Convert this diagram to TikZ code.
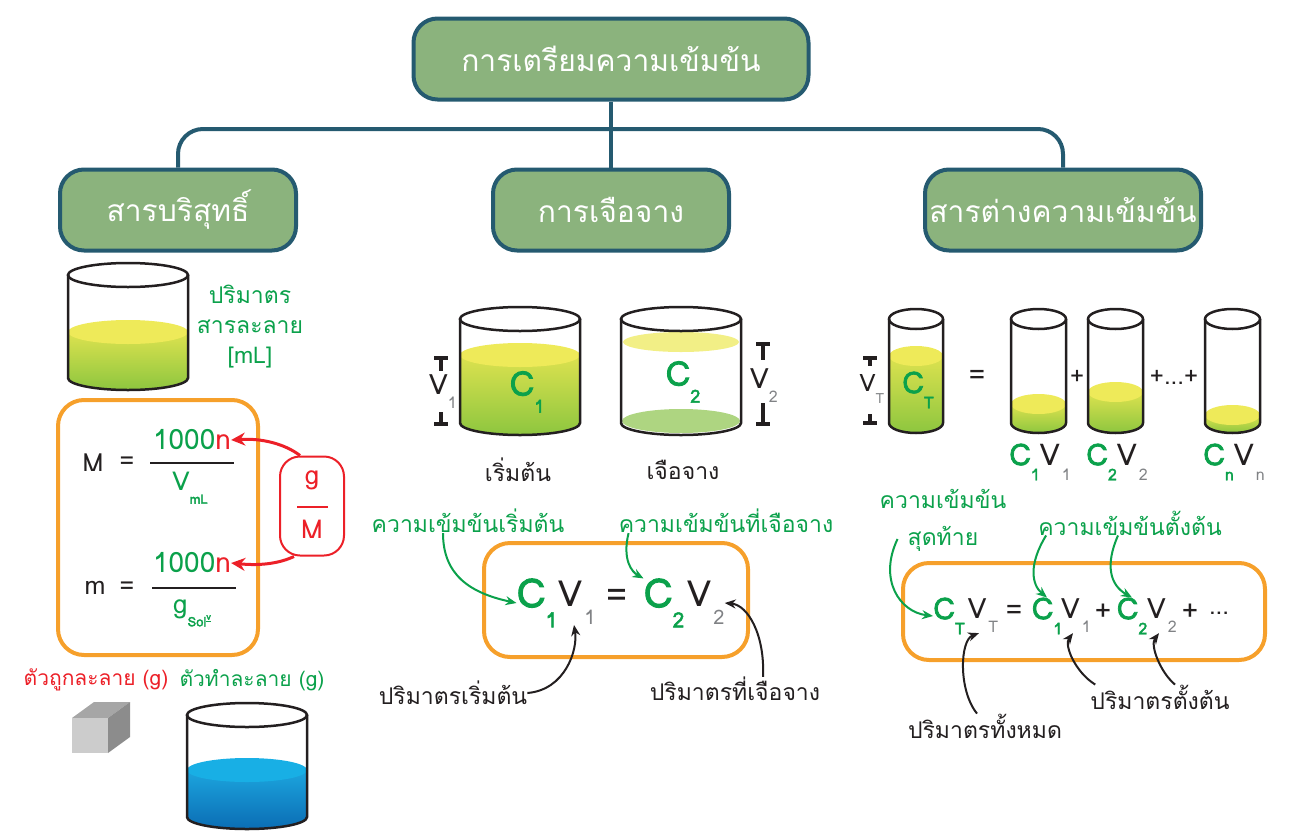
\documentclass[tikz,border=0pt]{standalone}
\usepackage{fontspec}
\setmainfont[Script=Thai]{Loma}
\newfontfamily\heavy[Script=Thai,FakeBold=2.5]{Loma}
\usetikzlibrary{positioning,arrows.meta}

\definecolor{boxfill}{HTML}{8BB37D}
\definecolor{boxline}{HTML}{255A70}
\definecolor{frameorange}{HTML}{F6A02B}
\definecolor{txtgreen}{HTML}{0BA14B}
\definecolor{txtred}{HTML}{EC2028}
\definecolor{ink}{HTML}{231F20}
\definecolor{subgray}{HTML}{808285}
\definecolor{liqtop}{HTML}{EEEA59}
\definecolor{liqmid}{HTML}{DDE24F}
\definecolor{liqbot}{HTML}{8DC63F}
\definecolor{bandyellow}{HTML}{F2EF86}
\definecolor{bandgreen}{HTML}{AED581}
\definecolor{watertop}{HTML}{18AFE5}
\definecolor{watermid}{HTML}{1CA5DE}
\definecolor{waterbot}{HTML}{0B6DB4}

% lowered index, #1 = size
\newcommand{\lowidx}[2]{\raisebox{-0.5em}{\fontsize{#1}{#1}\selectfont#2}}

% glass: left x, right x, rim y, bottom y, y radius
\newcommand{\glass}[5]{%
  \pgfmathsetmacro\grx{(#2-#1)/2}\pgfmathsetmacro\gcx{(#1+#2)/2}%
  \draw[glassline] (#1,#3) -- (#1,#4) arc[start angle=180,end angle=360,x radius=\grx pt,y radius=#5pt] -- (#2,#3);
  \draw[glassline] (\gcx,#3) ellipse[x radius=\grx pt,y radius=#5pt];
}
% liquid: left x, right x, level y, bottom y, y radius, upper, lower, surface
\newcommand{\liquid}[8]{%
  \pgfmathsetmacro\grx{(#2-#1)/2}\pgfmathsetmacro\gcx{(#1+#2)/2}%
  \shade[top color=#6,bottom color=#7] (#1,#3) -- (#1,#4) arc[start angle=180,end angle=360,x radius=\grx pt,y radius=#5pt] -- (#2,#3) -- cycle;
  \fill[#8] (\gcx,#3) ellipse[x radius=\grx pt,y radius=#5pt];
}

\begin{document}
\begin{tikzpicture}[x=1pt,y=-1pt]
        \tikzstyle{topic}=[draw=boxline,line width=4pt,fill=boxfill,rounded corners=24pt,text=white,font=\fontsize{30}{36}\selectfont,minimum height=81pt]
        \tikzstyle{branch}=[draw=boxline,line width=4pt]
        \tikzstyle{frame}=[draw=frameorange,line width=4pt,rounded corners=26pt]
        \tikzstyle{glassline}=[draw=ink,line width=2.5pt]
        \tikzstyle{ruler}=[draw=ink,line width=3.5pt]
        \tikzstyle{greenlbl}=[text=txtgreen,font=\fontsize{23}{26}\selectfont,inner sep=0pt]
        \tikzstyle{blacklbl}=[text=ink,font=\fontsize{23}{26}\selectfont,inner sep=0pt]
        \tikzstyle{conc}=[text=txtgreen,font=\heavy,inner sep=0pt]
        \tikzstyle{formula}=[text=txtgreen,inner sep=0pt]
        \tikzstyle{vol}=[text=ink,inner sep=0pt]
        \tikzstyle{hint}=[draw=txtgreen,line width=2pt,-{Stealth[length=11pt,width=9pt]}]
        \tikzstyle{pointer}=[draw=ink,line width=2pt,-{Stealth[length=11pt,width=9pt]}]
        \tikzstyle{redarrow}=[draw=txtred,line width=3pt,-{Stealth[length=14pt,width=13pt]}]

        \useasboundingbox (0,0) rectangle (1291,833);

        % Tree
        \node[topic,minimum width=395pt] (root) at (611,59) {การเตรียมความเข้มข้น};
        \node[topic,minimum width=236pt] (pure) at (178,210) {สารบริสุทธิ์};
        \node[topic,minimum width=236pt] (dilute) at (611,210) {การเจือจาง};
        \node[topic,minimum width=276pt] (mixed) at (1063,210) {สารต่างความเข้มข้น};
        \coordinate (fork) at (611,129);
        \draw[branch] (root) -- (dilute);
        \draw[branch,rounded corners=25pt] (pure.north) |- (fork) -| (mixed.north);

        % Pure substance: solution glass
        \liquid{68}{188}{332}{378}{12}{liqmid}{liqbot}{liqtop}
        \glass{68}{188}{275}{378}{12}
        \node[greenlbl,align=center] (soln) at (250,327) {ปริมาตร\\[4pt]สารละลาย\\[4pt][mL]};

        % Formulas
        \draw[frame] (58,400) rectangle (258,655);
        \node[vol,font=\fontsize{25}{25}\selectfont] (M) at (93,463) {M};
        \node[vol,font=\fontsize{25}{25}\selectfont] (Meq) at (127,463) {=};
        \draw[ink,line width=2pt] (150,463) -- (234,463);
        \node[formula,font=\fontsize{28}{28}\selectfont] (n1) at (192,440) {1000{\color{txtred}n}};
        \node[formula,font=\fontsize{26}{26}\selectfont] (vml) at (190,488) {V\lowidx{13pt}{\heavy mL}};
        \node[vol,font=\fontsize{25}{25}\selectfont] (m) at (95,588) {m};
        \node[vol,font=\fontsize{25}{25}\selectfont] (meq) at (127,588) {=};
        \draw[ink,line width=2pt] (152,588) -- (236,588);
        \node[formula,font=\fontsize{28}{28}\selectfont] (n2) at (192,563) {1000{\color{txtred}n}};
        \node[formula,font=\fontsize{26}{26}\selectfont] (gsol) at (192,613) {g\lowidx{13pt}{\heavy Sol\raisebox{0.5em}{\underline{\fontsize{9}{9}\selectfont v}}}};

        % g/M
        \node[draw=txtred,line width=2pt,rounded corners=20pt,fill=white,minimum width=64pt,minimum height=99pt] (gM) at (312,506) {};
        \node[text=txtred,font=\fontsize{26}{26}\selectfont] (gtop) at (312,480) {g};
        \node[text=txtred,font=\fontsize{26}{26}\selectfont] (gbot) at (312,529) {M};
        \draw[txtred,line width=2pt] (297,507) -- (328,507);
        \draw[redarrow] ([xshift=-12pt]gM.north) .. controls (285,444) and (262,438) .. (n1.east);
        \draw[redarrow] ([xshift=-18pt]gM.south) .. controls (280,563) and (262,566) .. (n2.east);

        % Solute and solvent
        \node[text=txtred,font=\fontsize{21}{24}\selectfont,inner sep=0pt] (solute) at (96,680) {ตัวถูกละลาย (g)};
        \node[greenlbl,font=\fontsize{21}{24}\selectfont] (solvent) at (252,680) {ตัวทำละลาย (g)};
        \fill[black!35] (72,718) -- (94,702) -- (130,702) -- (108,718) -- cycle;
        \fill[black!45] (108,718) -- (130,702) -- (130,737) -- (108,753) -- cycle;
        \fill[black!20] (72,718) rectangle (108,753);
        \liquid{187}{307}{770}{817}{12}{watermid}{waterbot}{watertop}
        \glass{187}{307}{715}{817}{12}

        % Dilution glasses
        \liquid{460}{580}{355}{423}{12}{liqmid}{liqbot}{liqtop}
        \glass{460}{580}{319}{423}{12}
        \fill[bandyellow] (681,342) ellipse[x radius=58pt,y radius=10pt];
        \fill[bandgreen] (681,421) ellipse[x radius=59pt,y radius=12pt];
        \glass{621}{741}{319}{423}{12}
        \node[conc,font=\heavy\fontsize{34}{34}\selectfont] (glassC1) at (527,392) {C\lowidx{18pt}{1}};
        \node[conc,font=\heavy\fontsize{34}{34}\selectfont] (glassC2) at (683,382) {C\lowidx{18pt}{2}};
        \draw[ruler] (434,358) -- (448,358) (441,358) -- (441,371);
        \draw[ruler] (441,412) -- (441,424) (434,424) -- (448,424);
        \node[vol,font=\fontsize{28}{28}\selectfont] (rulerV1) at (443,392) {V\lowidx{16pt}{\color{subgray}1}};
        \draw[ruler] (756,344) -- (770,344) (763,344) -- (763,360);
        \draw[ruler] (763,403) -- (763,424) (756,424) -- (770,424);
        \node[vol,font=\fontsize{28}{28}\selectfont] (rulerV2) at (764,386) {V\lowidx{16pt}{\color{subgray}2}};
        \node[blacklbl] (start) at (518,470) {เริ่มต้น};
        \node[blacklbl] (diluted) at (683,470) {เจือจาง};

        % C1V1 = C2V2
        \node[greenlbl] (lblC1) at (468,521) {ความเข้มข้นเริ่มต้น};
        \node[greenlbl] (lblC2) at (726,521) {ความเข้มข้นที่เจือจาง};
        \draw[frame] (484,543) rectangle (748,657);
        \node[conc,font=\heavy\fontsize{40}{40}\selectfont] (dC1) at (537,603) {C\lowidx{21pt}{1}};
        \node[vol,font=\fontsize{36}{36}\selectfont] (dV1) at (577,603) {V\hspace{2pt}\lowidx{20pt}{\color{subgray}1}};
        \node[vol,font=\fontsize{36}{36}\selectfont] (deq) at (617,598) {=};
        \node[conc,font=\heavy\fontsize{40}{40}\selectfont] (dC2) at (664,603) {C\lowidx{21pt}{2}};
        \node[vol,font=\fontsize{36}{36}\selectfont] (dV2) at (706,603) {V\hspace{2pt}\lowidx{20pt}{\color{subgray}2}};
        \node[blacklbl] (lblV1) at (453,693) {ปริมาตรเริ่มต้น};
        \node[blacklbl] (lblV2) at (735,689) {ปริมาตรที่เจือจาง};
        \draw[hint] ([xshift=-25pt]lblC1.south) .. controls (443,575) and (470,593) .. (dC1.west);
        \draw[hint] ([xshift=10pt]lblC2.south west) .. controls (622,560) and (632,572) .. (dC2.north west);
        \draw[pointer] (lblV1.east) .. controls (565,690) and (578,650) .. ([xshift=-3pt]dV1.south);
        \draw[pointer] ([xshift=28pt]lblV2.north) .. controls (765,635) and (748,605) .. (dV2.east);

        % Mixing glasses
        \liquid{889}{943}{356}{423}{10}{liqmid}{liqbot}{liqtop}
        \glass{889}{943}{319}{423}{10}
        \liquid{1011}{1066}{404}{423}{10}{liqmid}{liqbot}{liqtop}
        \glass{1011}{1066}{319}{423}{10}
        \liquid{1088}{1143}{392}{423}{10}{liqmid}{liqbot}{liqtop}
        \glass{1088}{1143}{319}{423}{10}
        \liquid{1205}{1260}{415}{423}{10}{liqmid}{liqbot}{liqtop}
        \glass{1205}{1260}{319}{423}{10}
        \node[conc,font=\heavy\fontsize{30}{30}\selectfont] (glassCT) at (918,390) {C\lowidx{16pt}{T}};
        \draw[ruler] (863,358) -- (877,358) (870,358) -- (870,366);
        \draw[ruler] (870,414) -- (870,423) (863,423) -- (877,423);
        \node[vol,font=\fontsize{24}{24}\selectfont] (rulerVT) at (872,389) {V\lowidx{14pt}{\color{subgray}T}};
        \node[vol,font=\fontsize{28}{28}\selectfont] (tubeeq) at (977,377) {=};
        \node[vol,font=\fontsize{24}{24}\selectfont] (plusA) at (1077,377) {+};
        \node[vol,font=\fontsize{24}{24}\selectfont] (plusB) at (1174,377) {+...+};
        \node[vol,font=\fontsize{30}{30}\selectfont] (tube1) at (1040,462) {{\color{txtgreen}\heavy C\lowidx{16pt}{1}}V\hspace{2pt}\lowidx{16pt}{\color{subgray}1}};
        \node[vol,font=\fontsize{30}{30}\selectfont] (tube2) at (1117,462) {{\color{txtgreen}\heavy C\lowidx{16pt}{2}}V\hspace{2pt}\lowidx{16pt}{\color{subgray}2}};
        \node[vol,font=\fontsize{30}{30}\selectfont] (tuben) at (1234,462) {{\color{txtgreen}\heavy C\lowidx{16pt}{n}}V\hspace{2pt}\lowidx{16pt}{\color{subgray}n}};

        % CTVT = C1V1 + C2V2 + ...
        \node[greenlbl] (lblCT) at (943,499) {ความเข้มข้น};
        \node[greenlbl] (lblCT2) at (943,539) {สุดท้าย};
        \node[greenlbl] (lblCi) at (1130,523) {ความเข้มข้นตั้งต้น};
        \draw[frame] (903,563) rectangle (1265,660);
        \node[conc,font=\heavy\fontsize{30}{30}\selectfont] (mCT) at (949,616) {C\lowidx{16pt}{T}};
        \node[vol,font=\fontsize{28}{28}\selectfont] (mVT) at (983,616) {V\hspace{2pt}\lowidx{16pt}{\color{subgray}T}};
        \node[vol,font=\fontsize{28}{28}\selectfont] (meqs) at (1014,612) {=};
        \node[conc,font=\heavy\fontsize{30}{30}\selectfont] (mC1) at (1047,616) {C\lowidx{16pt}{1}};
        \node[vol,font=\fontsize{28}{28}\selectfont] (mV1) at (1076,616) {V\hspace{2pt}\lowidx{16pt}{\color{subgray}1}};
        \node[vol,font=\fontsize{28}{28}\selectfont] (mp1) at (1103,612) {+};
        \node[conc,font=\heavy\fontsize{30}{30}\selectfont] (mC2) at (1132,616) {C\lowidx{16pt}{2}};
        \node[vol,font=\fontsize{28}{28}\selectfont] (mV2) at (1162,616) {V\hspace{2pt}\lowidx{16pt}{\color{subgray}2}};
        \node[vol,font=\fontsize{28}{28}\selectfont] (mp2) at (1190,612) {+};
        \node[vol,font=\fontsize{24}{24}\selectfont] (mdots) at (1219,613) {...};
        \node[blacklbl] (lblVT) at (985,726) {ปริมาตรทั้งหมด};
        \node[blacklbl] (lblVi) at (1160,697) {ปริมาตรตั้งต้น};
        \draw[hint] ([xshift=-10pt]lblCT2.west) .. controls (878,580) and (900,612) .. (mCT.west);
        \draw[hint] ([xshift=8pt]lblCi.south west) .. controls (1028,565) and (1032,585) .. (mC1.north);
        \draw[hint] ([xshift=-12pt]lblCi.south) .. controls (1105,565) and (1110,585) .. (mC2.north);
        \draw[pointer] ([xshift=-8pt]lblVT.north) .. controls (958,690) and (960,640) .. ([xshift=-4pt]mVT.south);
        \draw[pointer] ([xshift=5pt]lblVi.north west) .. controls (1075,672) and (1064,645) .. ([xshift=-3pt]mV1.south);
        \draw[pointer] ([xshift=15pt]lblVi.north) .. controls (1160,672) and (1150,645) .. ([xshift=-3pt]mV2.south);

    \end{tikzpicture}
\end{document}
